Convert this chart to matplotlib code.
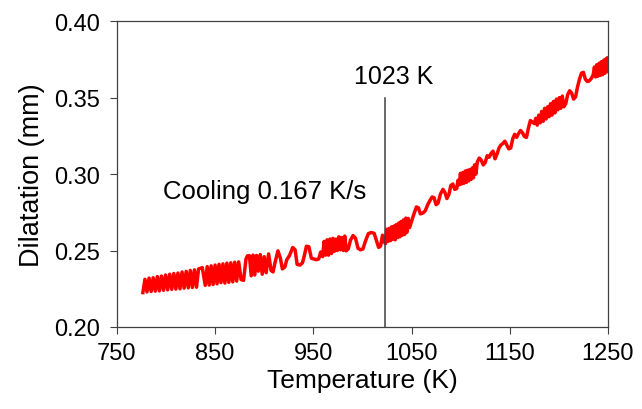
import matplotlib
matplotlib.use("Agg")
import matplotlib.pyplot as plt

plt.rcParams['font.family'] = ['Liberation Sans', 'DejaVu Sans']

# dilatation curve (temperature in K, dilatation in mm)
temp = [
    776.5, 778.6, 780.7, 782.8, 784.9, 787.0, 789.1, 791.2, 793.3, 795.4,
    797.5, 799.6, 801.7, 803.8, 805.9, 808.0, 810.1, 812.2, 814.3, 816.4,
    818.5, 820.6, 822.7, 824.8, 826.9, 829.0, 831.1, 833.2, 837.0, 840.0,
    842.0, 844.0, 846.0, 848.0, 850.0, 852.0, 854.0, 856.0, 858.0, 860.0,
    862.0, 864.0, 866.0, 868.0, 870.0, 872.0, 874.0, 876.5, 879.0, 881.5,
    883.0,
    885.0, 886.8, 888.6, 890.4, 892.2, 894.0, 896.0, 898.0, 900.0, 902.0,
    904.5, 907.0, 909.0, 911.0, 914.0, 916.5, 918.5, 921.0, 923.0, 926.0,
    929.0, 931.5, 933.5, 936.5, 939.0, 941.0, 943.0, 945.5, 948.0, 950.5,
    953.0, 955.5, 957.5, 959.5, 961.0, 962.5, 964.0, 965.5, 967.0, 968.5,
    970.0, 971.5, 973.0, 974.5, 976.0, 977.5, 979.0, 980.5, 982.0, 983.5,
    985.5, 988.0, 990.5, 993.0, 995.5, 998.0, 1000.5, 1003.0, 1006.0, 1009.0,
    1012.0, 1014.5, 1016.5, 1018.5, 1020.5, 1022.0, 1023.5, 1025.0,
    1026.2, 1027.4, 1028.6, 1029.8, 1031.0, 1032.2, 1033.4, 1034.6, 1035.8, 1037.0,
    1038.2, 1039.4, 1040.6, 1041.8, 1043.0, 1044.2, 1045.4, 1046.6, 1048.0, 1050.0,
    1052.5, 1055.0, 1057.0, 1059.0, 1061.5, 1064.0, 1066.5, 1069.0, 1071.0, 1073.0,
    1075.0, 1077.0, 1079.5, 1082.0, 1084.0, 1086.0, 1088.0, 1090.0, 1092.0, 1094.0,
    1096.0, 1097.4, 1098.6, 1099.8, 1101.0, 1102.2, 1103.4, 1104.6, 1105.8, 1107.0,
    1108.2, 1109.4, 1110.6, 1111.8, 1113.0, 1114.2, 1115.5, 1117.0, 1119.0, 1121.0,
    1123.0, 1125.0, 1127.0, 1129.0, 1131.0, 1133.0, 1135.0, 1137.0, 1139.0, 1141.0,
    1143.0, 1145.0, 1147.0, 1149.0, 1151.0, 1153.0, 1155.0, 1157.0, 1159.0, 1161.0,
    1163.0, 1165.0, 1167.0, 1169.0, 1171.0, 1173.0, 1175.0,
    1176.5, 1178.0, 1179.5, 1181.0, 1182.5, 1184.0, 1185.5, 1187.0, 1188.5, 1190.0,
    1191.5, 1193.0, 1194.5, 1196.0, 1197.5, 1199.0, 1200.5, 1202.0, 1203.5, 1205.0,
    1207.0, 1209.0, 1211.0, 1213.0, 1215.0, 1217.0, 1219.0, 1221.0, 1223.0, 1225.0,
    1227.0, 1229.0, 1231.0, 1233.0, 1235.0,
    1236.2, 1237.4, 1238.6, 1239.8, 1241.0, 1242.2, 1243.4, 1244.6, 1245.8, 1247.0,
    1248.2, 1249.4, 1250.0,
]
dilat = [
    0.2225, 0.2312, 0.2229, 0.2320, 0.2232, 0.2322, 0.2234, 0.2330, 0.2236, 0.2333,
    0.2240, 0.2340, 0.2243, 0.2345, 0.2246, 0.2350, 0.2248, 0.2353, 0.2250, 0.2360,
    0.2254, 0.2364, 0.2256, 0.2370, 0.2258, 0.2374, 0.2260, 0.2380, 0.2388, 0.2272,
    0.2395, 0.2274, 0.2400, 0.2278, 0.2405, 0.2282, 0.2410, 0.2290, 0.2413, 0.2287,
    0.2418, 0.2292, 0.2420, 0.2295, 0.2424, 0.2300, 0.2426, 0.2310, 0.2305, 0.2445,
    0.2465,
    0.2466, 0.2335, 0.2470, 0.2340, 0.2468, 0.2365, 0.2474, 0.2345, 0.2460, 0.2355,
    0.2478, 0.2370, 0.2360, 0.2420, 0.2498, 0.2450, 0.2380, 0.2392, 0.2440, 0.2470,
    0.2520, 0.2505, 0.2410, 0.2405, 0.2420, 0.2470, 0.2528, 0.2525, 0.2450, 0.2445,
    0.2440, 0.2445, 0.2490, 0.2460, 0.2560, 0.2470, 0.2570, 0.2470, 0.2575, 0.2480,
    0.2580, 0.2495, 0.2575, 0.2500, 0.2590, 0.2505, 0.2585, 0.2500, 0.2595, 0.2498,
    0.2510, 0.2570, 0.2598, 0.2580, 0.2515, 0.2505, 0.2510, 0.2560, 0.2610, 0.2618,
    0.2612, 0.2560, 0.2520, 0.2530, 0.2600, 0.2560, 0.2545, 0.2640,
    0.2560, 0.2645, 0.2565, 0.2655, 0.2575, 0.2660, 0.2570, 0.2670, 0.2585, 0.2680,
    0.2590, 0.2690, 0.2600, 0.2700, 0.2605, 0.2712, 0.2620, 0.2710, 0.2650, 0.2690,
    0.2740, 0.2785, 0.2780, 0.2740, 0.2745, 0.2760, 0.2800, 0.2830, 0.2850, 0.2845,
    0.2800, 0.2810, 0.2870, 0.2900, 0.2880, 0.2840, 0.2865, 0.2925, 0.2935, 0.2900,
    0.2905, 0.2960, 0.2930, 0.3005, 0.2935, 0.3010, 0.2940, 0.3020, 0.2945, 0.3025,
    0.2955, 0.3030, 0.2965, 0.3040, 0.2975, 0.3060, 0.3000, 0.3080, 0.3105, 0.3090,
    0.3060, 0.3075, 0.3120, 0.3110, 0.3135, 0.3150, 0.3100, 0.3130, 0.3170, 0.3190,
    0.3200, 0.3215, 0.3190, 0.3165, 0.3170, 0.3230, 0.3260, 0.3240, 0.3265, 0.3285,
    0.3270, 0.3245, 0.3240, 0.3300, 0.3350, 0.3340, 0.3330,
    0.3365, 0.3320, 0.3385, 0.3335, 0.3410, 0.3345, 0.3430, 0.3360, 0.3440, 0.3375,
    0.3460, 0.3385, 0.3475, 0.3400, 0.3490, 0.3420, 0.3500, 0.3430, 0.3510, 0.3440,
    0.3460, 0.3520, 0.3545, 0.3530, 0.3490, 0.3505, 0.3570, 0.3620, 0.3660, 0.3665,
    0.3620, 0.3605, 0.3610, 0.3625, 0.3650,
    0.3700, 0.3635, 0.3715, 0.3640, 0.3725, 0.3645, 0.3735, 0.3650, 0.3745, 0.3660,
    0.3755, 0.3670, 0.3760,
]

x_ticks = [750, 850, 950, 1050, 1150, 1250]
y_ticks = [0.20, 0.25, 0.30, 0.35, 0.40]
y_tick_labels = ['0.20', '0.25', '0.30', '0.35', '0.40']
t_mark = 1023
mark_top = 0.35

fig = plt.figure(figsize=(6.42, 4.10), dpi=100)
ax = fig.add_axes([0.182, 0.200, 0.765, 0.746])

ax.plot(temp, dilat, color='#ff0000', lw=2.5, solid_joinstyle='round')

# vertical marker for transformation temperature
ax.plot([t_mark, t_mark], [0.20, mark_top], color='#404040', lw=1.1)
ax.text(t_mark + 9, 0.364, '1023 K', fontsize=18, ha='center', va='center')
ax.text(797, 0.289, 'Cooling 0.167 K/s', fontsize=18.5, ha='left', va='center')

ax.set_xlim(750, 1250)
ax.set_ylim(0.20, 0.40)
ax.set_xticks(x_ticks)
ax.set_yticks(y_ticks)
ax.set_yticklabels(y_tick_labels)
ax.tick_params(direction='out', length=5, width=0.8, color='#404040',
               labelsize=17)
ax.tick_params(axis='x', pad=6)
ax.tick_params(axis='y', pad=7)

for s in ax.spines.values():
    s.set_color('#404040')
    s.set_linewidth(0.9)

ax.set_xlabel('Temperature (K)', fontsize=19, labelpad=3)
ax.set_ylabel('Dilatation (mm)', fontsize=19.5, labelpad=7)

fig.savefig('out.png', dpi=100)
